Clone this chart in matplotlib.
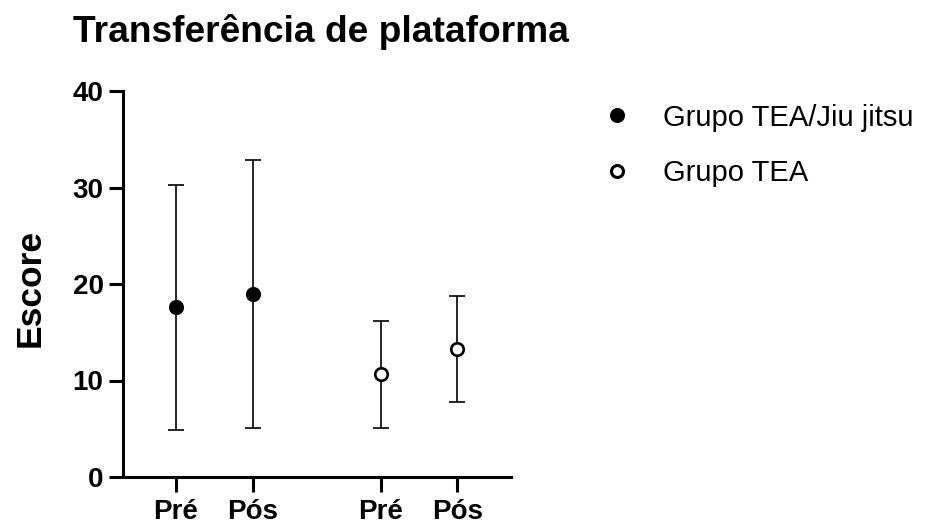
import matplotlib
matplotlib.use("Agg")
import matplotlib.pyplot as plt
from matplotlib.lines import Line2D

plt.rcParams['font.family'] = ['Liberation Sans', 'DejaVu Sans']

tick_labels = ["Pré", "Pós", "Pré", "Pós"]
x_pos = [1, 2, 3.67, 4.67]
group_jj_mean = [17.6, 19.0]
group_jj_low = [4.9, 5.1]
group_jj_high = [30.3, 32.8]
group_tea_mean = [10.65, 13.3]
group_tea_low = [5.1, 7.8]
group_tea_high = [16.2, 18.75]

W, H = 933, 526
fig = plt.figure(figsize=(W / 100, H / 100), dpi=100)
ax = fig.add_axes([123 / W, 1 - 477 / H, (511 - 123) / W, (477 - 91) / H])

def draw(xs, mean, low, high, filled, label):
    yerr = [[m - l for m, l in zip(mean, low)], [h - m for m, h in zip(mean, high)]]
    ax.errorbar(xs, mean, yerr=yerr, fmt='none', ecolor='black', elinewidth=1.2,
                capsize=6, capthick=1.2, zorder=2)
    ax.plot(xs, mean, 'o', markersize=9, markeredgewidth=1.9,
            markerfacecolor='black' if filled else 'white', markeredgecolor='black',
            zorder=3, label=label)

draw(x_pos[:2], group_jj_mean, group_jj_low, group_jj_high, True, "Grupo TEA/Jiu jitsu")
draw(x_pos[2:], group_tea_mean, group_tea_low, group_tea_high, False, "Grupo TEA")

ax.set_ylim(0, 40)
ax.set_xlim(0.31, 5.37)
ax.set_yticks([0, 10, 20, 30, 40])
ax.set_xticks(x_pos)
ax.set_xticklabels(tick_labels)
for s in ['top', 'right']:
    ax.spines[s].set_visible(False)
for s in ['left', 'bottom']:
    ax.spines[s].set_linewidth(2.2)
ax.tick_params(axis='y', width=2.2, length=10, labelsize=20, pad=4)
ax.tick_params(axis='x', width=2.2, length=11, labelsize=20, pad=5)
for lab in ax.get_xticklabels() + ax.get_yticklabels():
    lab.set_fontweight('bold')

fig.text(40 / W, 1 - 287.5 / H, "Escore", fontsize=25.5, fontweight='bold',
         rotation=90, rotation_mode='anchor', ha='center', va='baseline')
fig.text(73 / W, 1 - 42 / H, "Transferência de plataforma", fontsize=26.7,
         fontweight='bold', ha='left', va='baseline')

handles = [
    Line2D([], [], marker='o', linestyle='none', markersize=8.6, markerfacecolor='black',
           markeredgecolor='black', markeredgewidth=2.2),
    Line2D([], [], marker='o', linestyle='none', markersize=8.6, markerfacecolor='white',
           markeredgecolor='black', markeredgewidth=2.2),
]
fig.legend(handles, ["Grupo TEA/Jiu jitsu", "Grupo TEA"], loc='upper left',
           bbox_to_anchor=(590.7 / W, 1 - 92 / H), frameon=False, fontsize=21,
           handletextpad=1.075, labelspacing=0.95, handlelength=1.0,
           borderpad=0.4, borderaxespad=0)

fig.savefig("out.png", dpi=100)
